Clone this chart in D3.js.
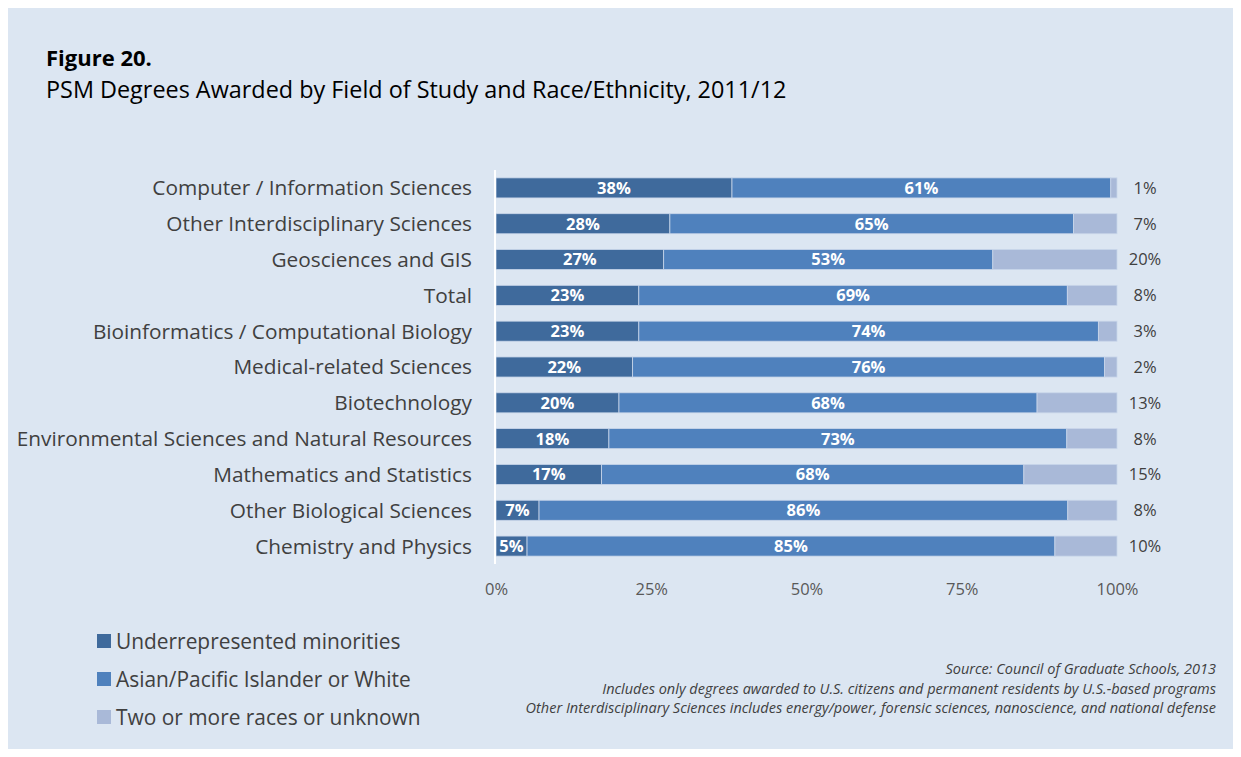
<!DOCTYPE html>
<html><head><meta charset="utf-8">
<script src="https://cdn.jsdelivr.net/npm/d3@7"></script>
<style>body{margin:0;background:#fff;}svg{display:block;font-family:"Open Sans",Lato,sans-serif;}</style>
</head><body>
<svg id="chart" width="1241" height="757"></svg>
<script>
const categories = ["Computer / Information Sciences","Other Interdisciplinary Sciences","Geosciences and GIS","Total","Bioinformatics / Computational Biology","Medical-related Sciences","Biotechnology","Environmental Sciences and Natural Resources","Mathematics and Statistics","Other Biological Sciences","Chemistry and Physics"];
const underrepresented = [38,28,27,23,23,22,20,18,17,7,5];
const asianWhite = [61,65,53,69,74,76,68,73,68,86,85];
const twoOrMore = [1,7,20,8,3,2,13,8,15,8,10];
const seriesNames = ["Underrepresented minorities","Asian/Pacific Islander or White","Two or more races or unknown"];
const tickLabels = ["0%","25%","50%","75%","100%"];
const tickValues = [0,0.25,0.5,0.75,1];

const colors = ["#3f6a9c","#4f81bd","#a9b9d8"];
const svg = d3.select("#chart");
svg.append("rect").attr("x",8).attr("y",8).attr("width",1225).attr("height",741).attr("fill","#dce6f2");

svg.append("text").attr("x",46).attr("y",66).attr("font-size",22).attr("font-weight","bold").attr("fill","#000").text("Figure 20.");
svg.append("text").attr("x",46).attr("y",98).attr("font-size",23.4).attr("fill","#000").text("PSM Degrees Awarded by Field of Study and Race/Ethnicity, 2011/12");

const rows = categories.map((c,i)=>({cat:c, a:underrepresented[i], b:asianWhite[i], c:twoOrMore[i]}));
const keys = ["a","b","c"];
const stack = d3.stack().keys(keys).offset(d3.stackOffsetExpand);
const layers = stack(rows);

const x = d3.scaleLinear().domain([0,1]).range([496,1117]);
const y = d3.scaleBand().domain(categories).range([170,564]).paddingInner(0.44).paddingOuter(0.22);

const g = svg.append("g");
layers.forEach((layer,li)=>{
  g.selectAll(null).data(layer).enter().append("rect")
    .attr("x",d=>x(d[0])).attr("y",d=>y(d.data.cat))
    .attr("width",d=>x(d[1])-x(d[0])).attr("height",y.bandwidth())
    .attr("fill",colors[li]).attr("stroke","#c9d6ea").attr("stroke-width",0.8);
});
[0,1].forEach(li=>{
  g.selectAll(null).data(layers[li]).enter().append("text")
    .attr("x",d=>(x(d[0])+x(d[1]))/2).attr("y",d=>y(d.data.cat)+y.bandwidth()/2)
    .attr("dy","0.36em").attr("text-anchor","middle").attr("fill","#fff")
    .attr("font-weight","bold").attr("font-size",16.5)
    .text(d=>d.data[keys[li]]+"%");
});
g.selectAll(null).data(rows).enter().append("text")
  .attr("x",1145).attr("y",d=>y(d.cat)+y.bandwidth()/2).attr("dy","0.36em")
  .attr("text-anchor","middle").attr("fill","#404040").attr("font-size",16.5)
  .text(d=>d.c+"%");
g.selectAll(null).data(categories).enter().append("text")
  .attr("x",472).attr("y",d=>y(d)+y.bandwidth()/2).attr("dy","0.36em")
  .attr("text-anchor","end").attr("fill","#404040").attr("font-size",20.8)
  .text(d=>d);
svg.append("line").attr("x1",495).attr("x2",495).attr("y1",170).attr("y2",564).attr("stroke","#fff").attr("stroke-width",2);
const xAxis = d3.axisBottom(x).tickValues(tickValues).tickFormat((d,i)=>tickLabels[i]).tickSize(0);
const ax = svg.append("g").attr("transform","translate(0,580)").call(xAxis);
ax.select(".domain").remove();
ax.selectAll("text").attr("font-size",16.5).attr("fill","#595959").attr("font-family","'Open Sans',Lato,sans-serif");

const leg = svg.append("g");
seriesNames.forEach((n,i)=>{
  const yy = 641 + i*38;
  leg.append("rect").attr("x",97).attr("y",yy-7).attr("width",14).attr("height",14).attr("fill",colors[i]);
  leg.append("text").attr("x",116).attr("y",yy).attr("dy","0.36em").attr("font-size",20.9).attr("fill","#404040").text(n);
});
const notes = ["Source: Council of Graduate Schools, 2013","Includes only degrees awarded to U.S. citizens and permanent residents by U.S.-based programs","Other Interdisciplinary Sciences includes energy/power, forensic sciences, nanoscience, and national defense"];
notes.forEach((t,i)=>{
  svg.append("text").attr("x",1216).attr("y",674+i*19.5).attr("text-anchor","end")
    .attr("font-size",14.5).attr("font-style","italic").attr("fill","#404040").text(t);
});
</script>
</body></html>
